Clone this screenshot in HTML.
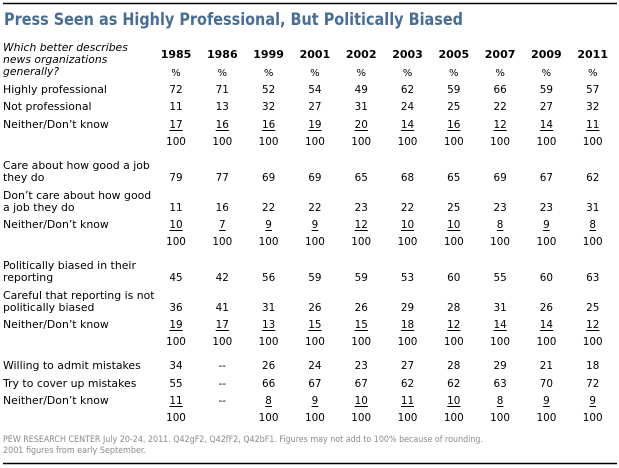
<!DOCTYPE html>
<html><head><meta charset="utf-8"><style>
html,body{margin:0;padding:0;background:#fff;width:619px;height:468px;overflow:hidden}
svg{display:block}
text{font-family:"DejaVu Sans","Liberation Sans",sans-serif;font-size:10px;fill:#000}
</style></head><body>
<svg id="chart" width="619" height="468" viewBox="0 0 619 468" xmlns="http://www.w3.org/2000/svg">
<line x1="3" y1="3.5" x2="617" y2="3.5" stroke="#000" stroke-width="1.5"/>
<text x="4" y="25" textLength="459" lengthAdjust="spacingAndGlyphs" style="font-size:17px;font-weight:bold;fill:#4a6e93">Press Seen as Highly Professional, But Politically Biased</text>
<text style="font-style:italic;font-size:10.8px" x="3"><tspan x="3" y="51">Which better describes</tspan><tspan x="3" y="63">news organizations</tspan><tspan x="3" y="75">generally?</tspan></text>
<g id="body"></g>
<text style="font-size:8.6px;fill:#8a8a8a"><tspan x="3" y="442" textLength="480" lengthAdjust="spacingAndGlyphs">PEW RESEARCH  CENTER July 20-24, 2011. Q42gF2, Q42fF2, Q42bF1. Figures may not add to 100% because of rounding.</tspan><tspan x="3" y="453" textLength="143" lengthAdjust="spacingAndGlyphs">2001 figures from  early September.</tspan></text>
<line x1="3" y1="463.5" x2="617" y2="463.5" stroke="#000" stroke-width="1.5"/>
</svg>
<script>
const years = ["1985","1986","1999","2001","2002","2003","2005","2007","2009","2011"];
const highlyProfessional = ["72","71","52","54","49","62","59","66","59","57"];
const notProfessional = ["11","13","32","27","31","24","25","22","27","32"];
const neitherProfessional = ["17","16","16","19","20","14","16","12","14","11"];
const careJob = ["79","77","69","69","65","68","65","69","67","62"];
const dontCareJob = ["11","16","22","22","23","22","25","23","23","31"];
const neitherCare = ["10","7","9","9","12","10","10","8","9","8"];
const biased = ["45","42","56","59","59","53","60","55","60","63"];
const careful = ["36","41","31","26","26","29","28","31","26","25"];
const neitherBiased = ["19","17","13","15","15","18","12","14","14","12"];
const admitMistakes = ["34","--","26","24","23","27","28","29","21","18"];
const coverMistakes = ["55","--","66","67","67","62","62","63","70","72"];
const neitherMistakes = ["11","--","8","9","10","11","10","8","9","9"];
const totals = ["100","100","100","100","100","100","100","100","100","100"];
const totals4 = ["100","","100","100","100","100","100","100","100","100"];

const NS="http://www.w3.org/2000/svg";
const g=document.getElementById('body');
function colX(i){return 176+i*46.3;}
function mk(tag,attrs){const e=document.createElementNS(NS,tag);for(const k in attrs)e.setAttribute(k,attrs[k]);g.appendChild(e);return e;}
years.forEach((y,i)=>{
  const t=mk('text',{x:colX(i),y:58,'text-anchor':'middle',style:'font-weight:bold;font-size:11px'});
  
  
  t.textContent=y;
  const p=mk('text',{x:colX(i),y:76,'text-anchor':'middle'});
  
  
  p.textContent='%';
});
const rows=[
 {label:["Highly professional"],vals:highlyProfessional,y:89},
 {label:["Not professional"],vals:notProfessional,y:106},
 {label:["Neither/Don’t know"],vals:neitherProfessional,y:124,u:true},
 {label:[],vals:totals,y:141},
 {label:["Care about how good a job","they do"],vals:careJob,y:177},
 {label:["Don’t care about how good","a job they do"],vals:dontCareJob,y:207},
 {label:["Neither/Don’t know"],vals:neitherCare,y:224,u:true},
 {label:[],vals:totals,y:241},
 {label:["Politically biased in their","reporting"],vals:biased,y:277},
 {label:["Careful that reporting is not","politically biased"],vals:careful,y:307},
 {label:["Neither/Don’t know"],vals:neitherBiased,y:324,u:true},
 {label:[],vals:totals,y:341},
 {label:["Willing to admit mistakes"],vals:admitMistakes,y:365},
 {label:["Try to cover up mistakes"],vals:coverMistakes,y:383},
 {label:["Neither/Don’t know"],vals:neitherMistakes,y:400,u:true},
 {label:[],vals:totals4,y:417}
];
rows.forEach((r,ri)=>{
  const n=r.label.length;
  r.label.forEach((l,li)=>{
    const t=mk('text',{x:3,y:r.y+4-(n-1-li)*12,style:'font-size:10.9px'});
    
    
    t.textContent=l;
  });
  r.vals.forEach((v,i)=>{
    if(!v)return;
    const t=mk('text',{x:colX(i),y:r.y+4,'text-anchor':'middle',style:'font-size:10.4px'});
    
    
    t.textContent=v;
    if(r.u && v!=='--'){
      const w=v.length*6.6;
      const ln=mk('line',{x1:colX(i)-w/2,x2:colX(i)+w/2,y1:r.y+6.5,y2:r.y+6.5,stroke:'#000','stroke-width':1});
      
      
    }
  });
});
</script>
</body></html>
